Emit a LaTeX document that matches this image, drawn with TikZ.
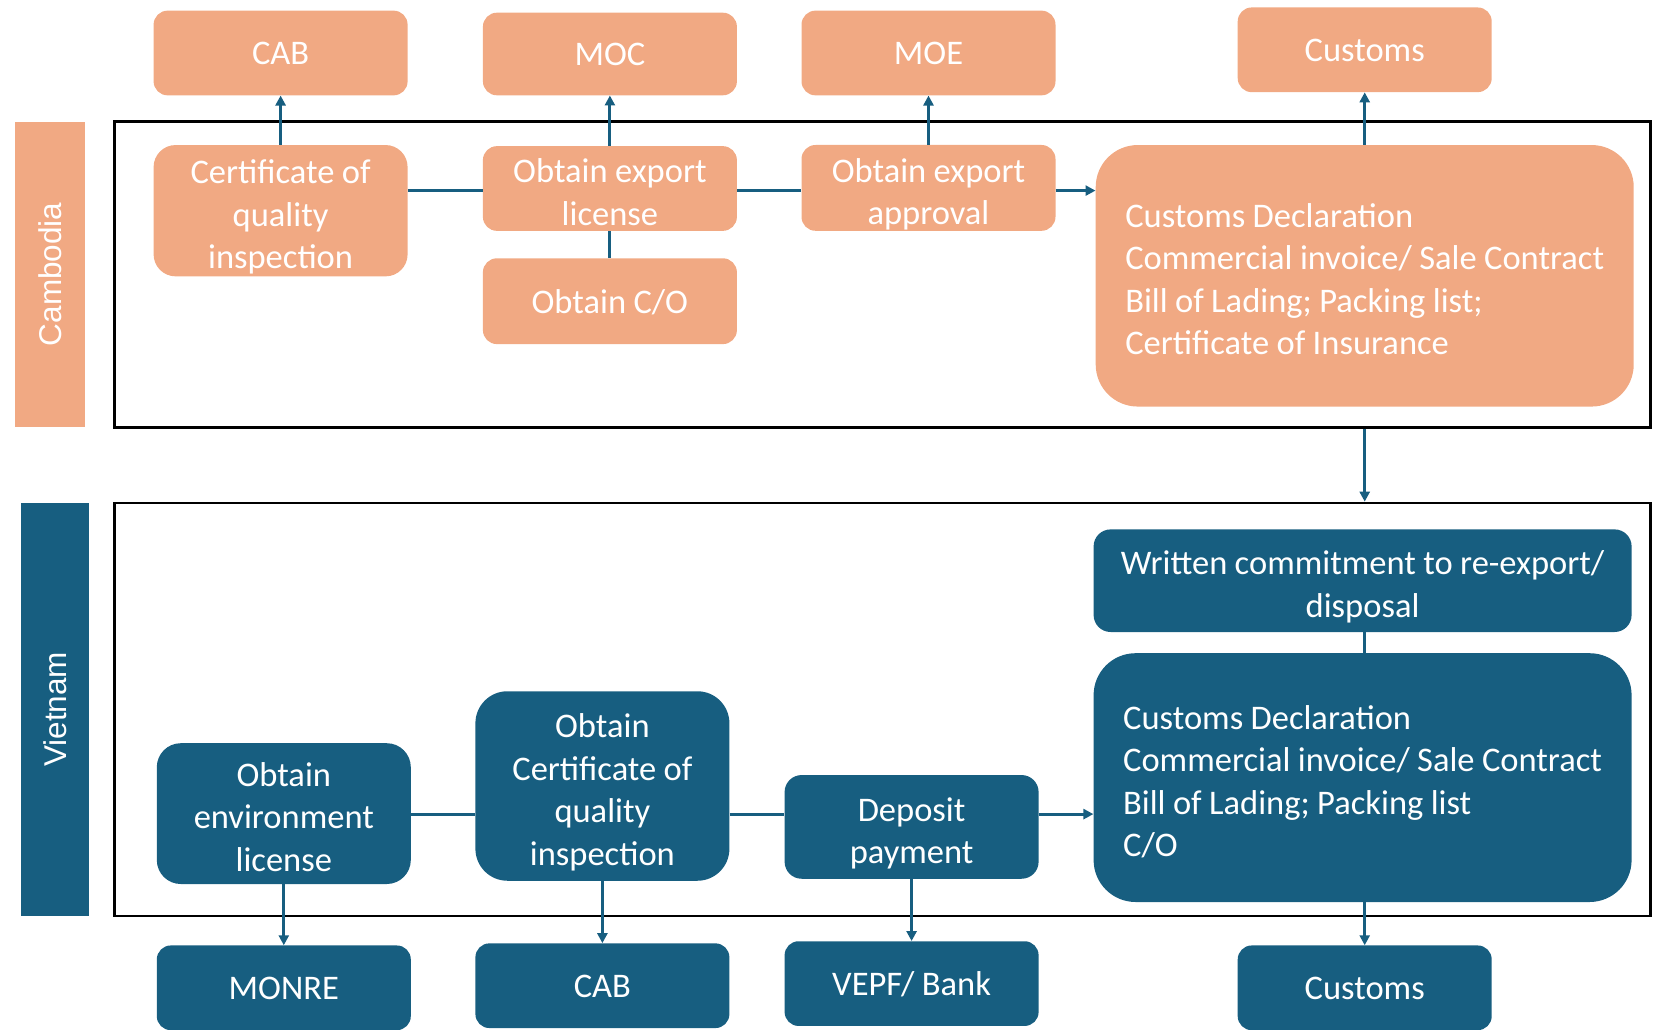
\documentclass[tikz,border=0pt]{standalone}
\usepackage{fontspec}
\setmainfont[WordSpace=0.95]{Carlito}
\newfontfamily\lblfont{Liberation Sans}
\usetikzlibrary{arrows.meta}
\definecolor{khc}{HTML}{F1A983}
\definecolor{vnc}{HTML}{175E80}
\begin{document}
\begin{tikzpicture}[x=1pt,y=-1pt,
  base/.style={text=white, font=\fontsize{34.5}{42.5}\selectfont, align=center, inner xsep=0pt, inner ysep=-20pt, anchor=center,
    execute at end node=\strut},
  one/.style={execute at begin node=\rule{0pt}{36.5pt}},
  nl/.style={execute at begin node=\rule{0pt}{#1}},
  khbox/.style={base, fill=khc},
  vnbox/.style={base, fill=vnc},
  sz/.style 2 args={minimum width=#1, minimum height=#2},
  conn/.style={draw=vnc, line width=3pt},
  arr/.style={conn, -{Triangle[length=10pt,width=10pt]}},
  frame/.style={draw=black, line width=2.5pt, inner sep=0pt},
  lane/.style={rotate=90, text=white, inner sep=0pt, font=\lblfont\fontsize{31.5}{31.5}\selectfont},
  doc/.style={align=left, minimum width=538pt, minimum height=#1}
]
\useasboundingbox (0,0) rectangle (1660,1030);

% frames and lane labels
\node[frame, sz={1536pt}{306pt}] (khf) at (882.4,274.7) {};
\node[frame, sz={1536pt}{413pt}] (vnf) at (882.4,709.4) {};
\node[lane, fill=khc, sz={305pt}{70pt}] (khl) at (49.8,274.3) {Cambodia};
\node[lane, fill=vnc, sz={413pt}{68pt}] (vnl) at (55,709.4) {Vietnam};

% Cambodia top agencies
\node[khbox, one, sz={254pt}{84.7pt}, rounded corners=14pt] (cabA) at (280.6,53) {CAB};
\node[khbox, one, sz={254pt}{82.6pt}, rounded corners=14pt] (moc) at (609.9,54) {MOC};
\node[khbox, one, sz={254pt}{84.7pt}, rounded corners=14pt] (moe) at (928.5,53) {MOE};
\node[khbox, one, sz={254pt}{84.7pt}, rounded corners=14pt] (cusA) at (1364.7,49.8) {Customs};

% Cambodia steps
\node[khbox, nl=128.5pt, sz={254pt}{131.3pt}, rounded corners=22pt] (certA) at (280.6,210.7) {Certificate of\\quality\\inspection};
\node[khbox, nl=86pt, sz={254pt}{84.7pt}, rounded corners=14pt] (lic) at (609.9,188.5) {Obtain export\\license};
\node[khbox, one, sz={254pt}{85.8pt}, rounded corners=14pt] (co) at (609.9,301.2) {Obtain C/O};
\node[khbox, nl=86pt, sz={254pt}{85.8pt}, rounded corners=14pt] (appr) at (928.5,187.9) {Obtain export\\approval};
\node[khbox, nl=171pt, doc=261.5pt, rounded corners=42pt] (declA) at (1364.7,275.8) {Customs Declaration\\Commercial invoice/ Sale Contract\\Bill of Lading; Packing list;\\Certificate of Insurance};

% Vietnam steps
\node[vnbox, nl=86pt, sz={538pt}{102.6pt}, rounded corners=17pt] (writ) at (1362.6,580.7) {Written commitment to re-export/\\disposal};
\node[vnbox, nl=171pt, doc=248.8pt, rounded corners=42pt] (declB) at (1362.6,777.6) {Customs Declaration\\Commercial invoice/ Sale Contract\\Bill of Lading; Packing list\\C/O};
\node[vnbox, nl=128.5pt, sz={254pt}{140.8pt}, rounded corners=24pt] (env) at (283.8,813.6) {Obtain\\environment\\license};
\node[vnbox, nl=171pt, sz={254pt}{189.5pt}, rounded corners=32pt] (certB) at (602.4,786) {Obtain\\Certificate of\\quality\\inspection};
\node[vnbox, nl=86pt, sz={254pt}{103.7pt}, rounded corners=17pt] (dep) at (911.6,826.9) {Deposit\\payment};

% Vietnam agencies
\node[vnbox, one, sz={254pt}{84.7pt}, rounded corners=14pt] (monre) at (283.8,987.8) {MONRE};
\node[vnbox, one, sz={254pt}{84.7pt}, rounded corners=14pt] (cabB) at (602.4,985.7) {CAB};
\node[vnbox, one, sz={254pt}{84.7pt}, rounded corners=14pt] (vepf) at (911.6,983.6) {VEPF/ Bank};
\node[vnbox, one, sz={254pt}{84.7pt}, rounded corners=14pt] (cusB) at (1364.7,987.8) {Customs};

% Cambodia connectors
\draw[conn] (certA.east |- 0,190.6) -- (lic.west |- 0,190.6);
\draw[conn] (lic.east |- 0,190.6) -- (appr.west |- 0,190.6);
\draw[arr] (appr.east |- 0,190.6) -- (declA.west |- 0,190.6);
\draw[conn] (lic.south) -- (co.north);
\draw[arr] (certA.north) -- (cabA.south);
\draw[arr] (lic.north) -- (moc.south);
\draw[arr] (appr.north) -- (moe.south);
\draw[arr] (declA.north) -- (cusA.south);
\draw[arr] (khf.south -| declA.south) -- (vnf.north -| declA.south);

% Vietnam connectors
\draw[conn] (writ.south -| declA.south) -- (declB.north -| declA.south);
\draw[conn] (env.east |- 0,814.1) -- (certB.west |- 0,814.1);
\draw[conn] (certB.east |- 0,814.1) -- (dep.west |- 0,814.1);
\draw[arr] (dep.east |- 0,814.1) -- (declB.west |- 0,814.1);
\draw[arr] (env.south) -- (monre.north);
\draw[arr] (certB.south) -- (cabB.north);
\draw[arr] (dep.south) -- (vepf.north);
\draw[arr] (declB.south -| cusB.north) -- (cusB.north);
\end{tikzpicture}
\end{document}
